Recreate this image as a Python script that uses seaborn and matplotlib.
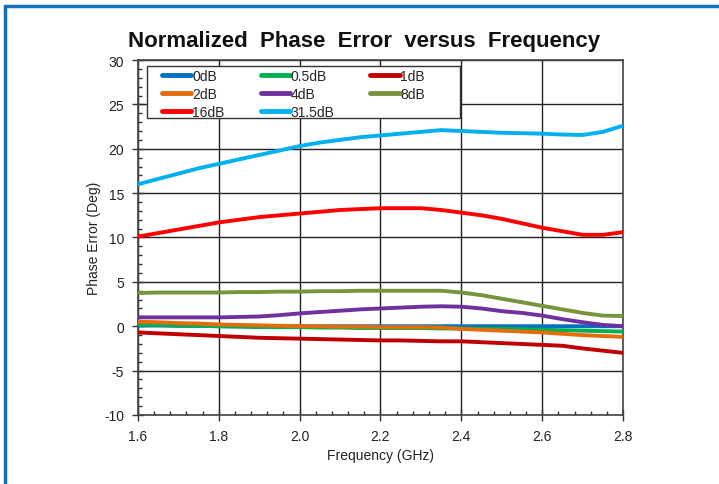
import numpy as np
import pandas as pd
import matplotlib
matplotlib.use("Agg")
import matplotlib.pyplot as plt
from matplotlib.lines import Line2D
from matplotlib.patches import Rectangle
from matplotlib.ticker import MultipleLocator, FormatStrFormatter
import seaborn as sns

# Frequency sweep (GHz)
freq = [1.60, 1.65, 1.70, 1.75, 1.80, 1.85, 1.90, 1.95, 2.00, 2.05, 2.10, 2.15, 2.20,
        2.25, 2.30, 2.35, 2.40, 2.45, 2.50, 2.55, 2.60, 2.65, 2.70, 2.75, 2.80]

# Normalized phase error (deg) per attenuation state
err_0db = [0.1, 0.1, 0.05, 0.05, 0.0, 0.0, 0.0, 0.0, 0.0, 0.0, 0.0, 0.0, 0.0,
           0.0, 0.0, 0.0, 0.0, 0.0, 0.0, 0.0, 0.0, 0.0, 0.0, 0.0, 0.0]
err_05db = [0.2, 0.15, 0.1, 0.05, 0.0, -0.05, -0.1, -0.1, -0.1, -0.15, -0.15, -0.2, -0.2,
            -0.2, -0.2, -0.25, -0.25, -0.3, -0.3, -0.35, -0.4, -0.45, -0.5, -0.55, -0.6]
err_1db = [-0.7, -0.8, -0.9, -1.0, -1.1, -1.2, -1.3, -1.35, -1.4, -1.45, -1.5, -1.55, -1.6,
           -1.6, -1.65, -1.7, -1.7, -1.8, -1.9, -2.0, -2.1, -2.2, -2.5, -2.75, -3.0]
err_2db = [0.5, 0.45, 0.35, 0.3, 0.2, 0.15, 0.1, 0.05, 0.0, 0.0, -0.05, -0.05, -0.1,
           -0.1, -0.1, -0.15, -0.3, -0.4, -0.5, -0.6, -0.7, -0.85, -1.0, -1.1, -1.2]
err_4db = [1.0, 1.0, 1.0, 1.0, 1.0, 1.05, 1.1, 1.25, 1.45, 1.6, 1.75, 1.9, 2.0,
           2.1, 2.2, 2.25, 2.2, 2.0, 1.7, 1.5, 1.2, 0.8, 0.45, 0.15, 0.0]
err_8db = [3.75, 3.8, 3.8, 3.8, 3.8, 3.85, 3.85, 3.9, 3.9, 3.95, 3.95, 4.0, 4.0,
           4.0, 4.0, 4.0, 3.8, 3.5, 3.1, 2.7, 2.3, 1.9, 1.5, 1.2, 1.15]
err_16db = [10.1, 10.5, 10.9, 11.3, 11.7, 12.0, 12.3, 12.5, 12.7, 12.9, 13.1, 13.2, 13.3,
            13.3, 13.3, 13.1, 12.8, 12.5, 12.1, 11.6, 11.1, 10.7, 10.3, 10.3, 10.6]
err_315db = [16.0, 16.6, 17.2, 17.8, 18.3, 18.8, 19.3, 19.8, 20.3, 20.7, 21.0, 21.3, 21.5,
             21.7, 21.9, 22.1, 22.0, 21.9, 21.8, 21.75, 21.7, 21.6, 21.55, 21.9, 22.6]

states = ["0dB", "0.5dB", "1dB", "2dB", "4dB", "8dB", "16dB", "31.5dB"]
series = [err_0db, err_05db, err_1db, err_2db, err_4db, err_8db, err_16db, err_315db]
colors = ["#0070C0", "#00B050", "#C00000", "#E46C0A",
          "#7030A0", "#77933C", "#FF0000", "#00B0F0"]

df = pd.DataFrame({
    "Frequency": np.tile(freq, len(states)),
    "Error": np.concatenate(series),
    "State": np.repeat(states, len(freq)),
})

sns.set_theme(style="white")
plt.rcParams["font.family"] = ["Liberation Sans", "DejaVu Sans"]
plt.rcParams["axes.unicode_minus"] = False

fig = plt.figure(figsize=(7.19, 4.85), dpi=100)
ax = fig.add_axes([0.1919, 0.1423, 0.6746, 0.7319])

palette = dict(zip(states, colors))
sns.lineplot(data=df, x="Frequency", y="Error", hue="State", hue_order=states,
             palette=palette, linewidth=2.8, ax=ax, legend=False, zorder=3)

ax.set_xlim(1.6, 2.8)
ax.set_ylim(-10, 30)
ax.xaxis.set_major_locator(MultipleLocator(0.2))
ax.xaxis.set_minor_locator(MultipleLocator(0.04))
ax.yaxis.set_major_locator(MultipleLocator(5))
ax.yaxis.set_minor_locator(MultipleLocator(1))
ax.xaxis.set_major_formatter(FormatStrFormatter("%.1f"))
ax.grid(True, which="major", color="#222222", linewidth=1.0)
for sp in ax.spines.values():
    sp.set_color("#444444")
    sp.set_linewidth(1.2)

ax.tick_params(which="major", direction="inout", length=8, width=1.0, color="#333333",
               labelsize=10, labelcolor="#222222", bottom=True, left=True)
ax.tick_params(axis="x", which="major", pad=6)
ax.tick_params(axis="y", which="major", pad=6)
ax.tick_params(which="minor", direction="in", length=3, width=1.0, color="#333333",
               bottom=True, left=True)

ax.set_xlabel("Frequency (GHz)", fontsize=10, color="#222222", labelpad=4)
ax.set_ylabel("Phase Error (Deg)", fontsize=10, color="#222222", labelpad=2)

# Legend box, filled row by row across three columns
ax.add_patch(Rectangle((0.0186, 0.836), 0.645, 0.148, transform=ax.transAxes,
                       facecolor="white", edgecolor="#333333", linewidth=1.0, zorder=4))
ncol = 3
nrow = int(np.ceil(len(states) / ncol))
order = [r * ncol + c for c in range(ncol) for r in range(nrow) if r * ncol + c < len(states)]
handles = [Line2D([0], [0], color=colors[i], linewidth=3.5, solid_capstyle="round")
           for i in order]
labels = [states[i] for i in order]
leg = ax.legend(handles, labels, ncol=ncol, loc="upper left",
                bbox_to_anchor=(0.050, 0.975),
                fontsize=10, frameon=False, handlelength=2.1,
                handletextpad=0.05, columnspacing=2.6, labelspacing=0.28,
                borderpad=0.0, borderaxespad=0.0)
leg.set_zorder(5)

fig.text(0.506, 0.914, "Normalized  Phase  Error  versus  Frequency", ha="center",
         va="center", fontsize=16, fontweight="bold", color="#111111")

# Framing border on the left and top edges
border = "#1570BA"
fig.add_artist(Line2D([5 / 719, 5 / 719], [0, 1 - 7 / 485], transform=fig.transFigure,
                      color=border, linewidth=2.5))
fig.add_artist(Line2D([5 / 719, 1], [1 - 7 / 485, 1 - 7 / 485], transform=fig.transFigure,
                      color=border, linewidth=2.5))

fig.savefig("out.png", dpi=100)
